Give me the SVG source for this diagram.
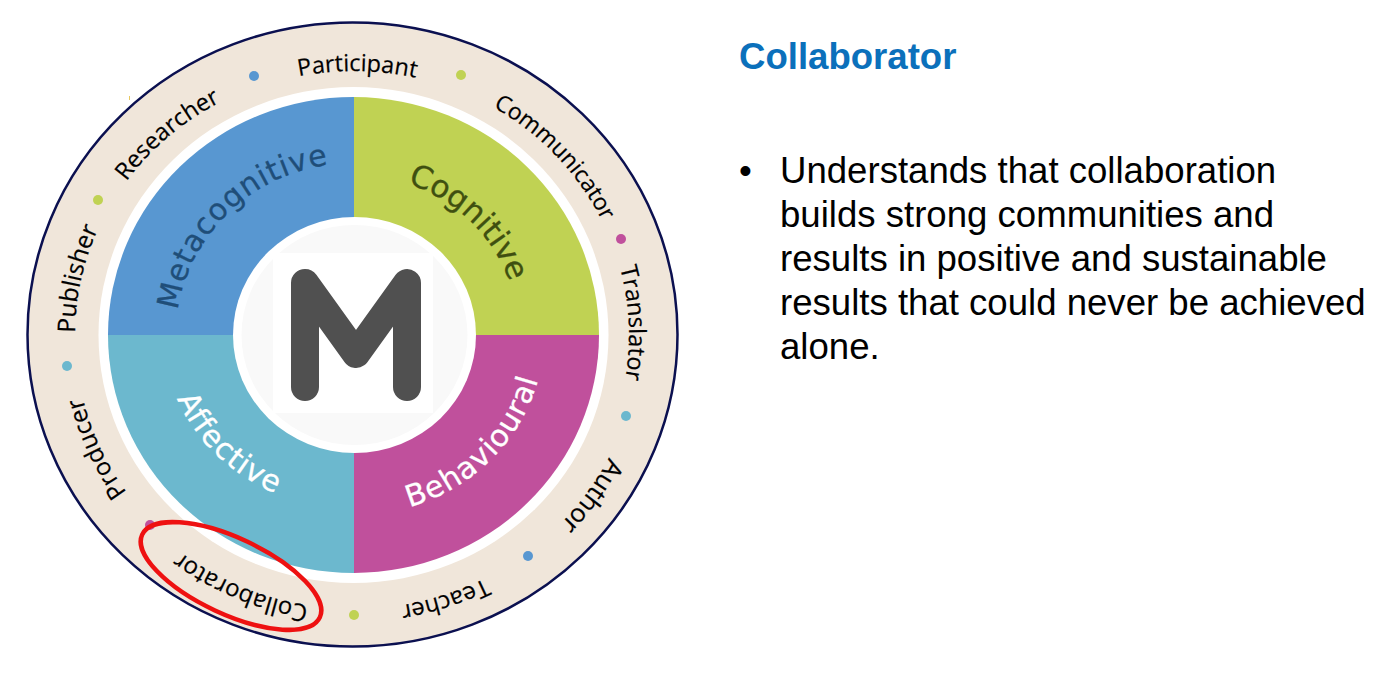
<svg xmlns="http://www.w3.org/2000/svg" width="1390" height="676" viewBox="0 0 1390 676">
<style>
.ring{font-family:"Open Sans","Liberation Sans",sans-serif;font-size:24px;fill:#000;stroke:#000;stroke-width:.2px;text-anchor:middle}
.seg{font-family:"DejaVu Sans",sans-serif;font-size:30px;letter-spacing:1px;text-anchor:middle;stroke-width:.3px}
.body{font-family:"Liberation Sans",Arial,sans-serif;font-size:36.600px;fill:#000}
</style>
<defs>
<path id="ringTop" d="M354 599A275 264 0 0 1 354 71A275 264 0 0 1 354 599"/>
<path id="ringTopLeft" d="M350 599A275 264 0 0 1 350 71A275 264 0 0 1 350 599"/>
<path id="ringBottom" d="M354 61A285 274 0 0 1 354 609A285 274 0 0 1 354 61"/>
<path id="ringBottomLeft" d="M360 61A285 274 0 0 1 360 609A285 274 0 0 1 360 61"/>
<path id="metaArc" d="M176 335A178 172 0 0 1 354 163"/>
<path id="cogArc" d="M354 175A165 160 0 0 1 519 335"/>
<path id="behArc" d="M354 515A190 180 0 0 0 544 335"/>
<path id="affArc" d="M164 335A190 174 0 0 0 354 509"/>
</defs>
<g id="wheel">
<ellipse cx="352.500" cy="334.500" rx="325" ry="312" fill="#f0e6da" stroke="#0b1050" stroke-width="2.500"/>
<ellipse cx="353.500" cy="335" rx="255" ry="248" fill="#fff"/>
<rect x="129" y="96" width="1" height="4" fill="#e8c860"/>
</g>
<g id="metacognitive">
<path d="M354 335V97A245.500 238 0 0 0 108 335Z" fill="#5897d1"/>
</g>
<g id="cognitive">
<path d="M354 335V97A245.500 238 0 0 1 599 335Z" fill="#c0d253"/>
</g>
<g id="behavioural">
<path d="M354 335V573A245.500 238 0 0 0 599 335Z" fill="#c0509c"/>
</g>
<g id="affective">
<path d="M354 335V573A245.500 238 0 0 1 108 335Z" fill="#6cb8ce"/>
</g>
<g id="centre">
<ellipse cx="354.500" cy="335" rx="121.500" ry="118" fill="#fff"/>
<ellipse cx="354.500" cy="335" rx="113" ry="110" fill="#f9f9f9"/>
<rect x="273" y="253" width="160" height="160" fill="#fff"/>
<path d="M305 387V283L356 354L407 283V387" fill="none" stroke="#505050" stroke-width="28" stroke-linecap="round" stroke-linejoin="round"/>
</g>
<g id="segment-labels">
<text class="seg" fill="#1f4e79" stroke="#1f4e79"><textPath href="#metaArc" startOffset="50%">Metacognitive</textPath></text>
<text class="seg" fill="#3f4f10" stroke="#3f4f10" style="font-size:31px;letter-spacing:0"><textPath href="#cogArc" startOffset="50%">Cognitive</textPath></text>
<text class="seg" fill="#fff" stroke="#fff"><textPath href="#behArc" startOffset="52%">Behavioural</textPath></text>
<text class="seg" fill="#fff" stroke="#fff"><textPath href="#affArc" startOffset="47.500%">Affective</textPath></text>
</g>
<g id="role-dots">
<circle cx="254" cy="76" r="5" fill="#5897d1"/>
<circle cx="461" cy="75" r="5" fill="#c0d253"/>
<circle cx="621" cy="239" r="5" fill="#c0509c"/>
<circle cx="626" cy="416" r="5" fill="#6cb8ce"/>
<circle cx="528" cy="556" r="5" fill="#5897d1"/>
<circle cx="354" cy="615" r="5" fill="#c0d253"/>
<circle cx="150" cy="525" r="5" fill="#c0509c"/>
<circle cx="67" cy="366" r="5" fill="#6cb8ce"/>
<circle cx="98" cy="200" r="5" fill="#c0d253"/>
</g>
<g id="role-labels">
<text class="ring" style="font-size:23.400px"><textPath href="#ringTop" startOffset="50.200%">Participant</textPath></text>
<text class="ring" style="font-size:23px"><textPath href="#ringTop" startOffset="63.300%">Communicator</textPath></text>
<text class="ring" style="font-size:23.600px"><textPath href="#ringTop" startOffset="74.300%">Translator</textPath></text>
<text class="ring" style="font-size:25.500px"><textPath href="#ringBottom" startOffset="34.600%">Author</textPath></text>
<text class="ring" style="font-size:23.800px"><textPath href="#ringBottom" startOffset="44.800%">Teacher</textPath></text>
<text class="ring"><textPath href="#ringBottom" startOffset="56.600%">Collaborator</textPath></text>
<text class="ring" style="font-size:24.500px"><textPath href="#ringBottomLeft" startOffset="68.400%">Producer</textPath></text>
<text class="ring" style="font-size:24.500px"><textPath href="#ringTopLeft" startOffset="28.300%">Publisher</textPath></text>
<text class="ring" style="font-size:23.700px"><textPath href="#ringTopLeft" startOffset="38.400%">Researcher</textPath></text>
</g>
<g id="highlight">
<ellipse cx="231" cy="576" rx="98" ry="38" transform="rotate(25 231 576)" fill="none" stroke="#ee1111" stroke-width="4.500"/>
</g>
<g id="description">
<text x="739" y="69" font-family="'Liberation Sans',Arial,sans-serif" font-weight="700" font-size="36.600" fill="#0b70bb">Collaborator</text>
<text class="body" x="739" y="183">•</text>
<text class="body" x="780" y="183">Understands that collaboration</text>
<text class="body" x="780" y="227">builds strong communities and</text>
<text class="body" x="780" y="271">results in positive and sustainable</text>
<text class="body" x="780" y="315">results that could never be achieved</text>
<text class="body" x="780" y="359">alone.</text>
</g>
</svg>
